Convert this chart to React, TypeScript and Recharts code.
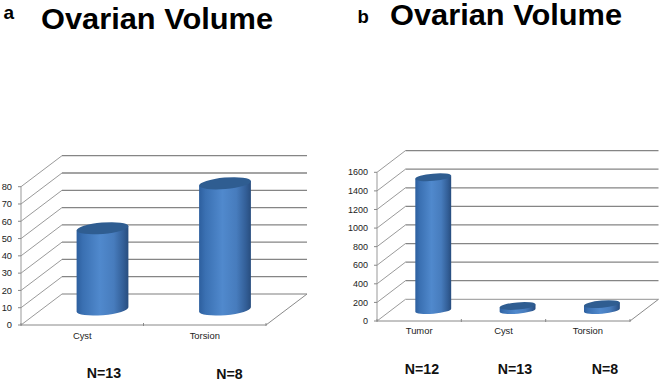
import React from "react";
import { BarChart, Bar, XAxis, YAxis, CartesianGrid } from "recharts";

const categoriesA = ["Cyst", "Torsion"];
const valuesA = [47, 73];
const ticksA = [0, 10, 20, 30, 40, 50, 60, 70, 80];
const categoriesB = ["Tumor", "Cyst", "Torsion"];
const valuesB = [1430, 45, 65];
const ticksB = [0, 200, 400, 600, 800, 1000, 1200, 1400, 1600];
const title = "Ovarian Volume";
const countsA = ["N=13", "N=8"];
const countsB = ["N=12", "N=13", "N=8"];

const toRows = (names: string[], values: number[]) =>
  names.map((name, i) => ({ name, value: values[i] }));

const FONT = "'Liberation Sans', Arial, sans-serif";
const TILT = 5;

function cylinder(id: string, dx: number, dy: number, ry: number) {
  return (p: any) => {
    const rx = p.width / 2;
    const cx = p.x + rx + dx;
    const top = p.y + dy;
    const base = p.y + p.height + dy;
    const a = (TILT * Math.PI) / 180;
    const ox = rx * Math.cos(a);
    const oy = rx * Math.sin(a);
    const side = `M${cx - ox} ${top + oy} L${cx - ox} ${base + oy} A${rx} ${ry} ${-TILT} 0 0 ${cx + ox} ${base - oy} L${cx + ox} ${top - oy} Z`;
    return (
      <g>
        <path d={side} fill={`url(#${id})`} />
        <ellipse cx={cx} cy={top} rx={rx} ry={ry} fill="#2f5d91" transform={`rotate(${-TILT} ${cx} ${top})`} />
      </g>
    );
  };
}

function grid3d(dx: number, dy: number) {
  return (p: any) => {
    const floor = Math.abs(p.y1 - (p.y + p.height)) < 0.5;
    const x = p.x1;
    const y = p.y1;
    const end = p.x2;
    return (
      <g key={`g${y}`} fill="none">
        <line x1={x} y1={y} x2={x + dx} y2={y + dy} stroke="#9a9a9a" />
        <line x1={x + dx} y1={y + dy} x2={end + dx} y2={y + dy} stroke={floor ? "#a8a8a8" : "#858585"} strokeWidth={1.3} />
        {floor && <line x1={end} y1={y} x2={end + dx} y2={y + dy} stroke="#8a8a8a" />}
      </g>
    );
  };
}

function xTick(band: number, count: number, axisGap: number, labelGap: number) {
  return (p: any) => {
    const axisY = p.y - axisGap;
    return (
      <g>
        <line x1={p.x - band / 2} y1={axisY} x2={p.x - band / 2} y2={axisY + 3} stroke="#888" />
        {p.index === count - 1 && <line x1={p.x + band / 2} y1={axisY} x2={p.x + band / 2} y2={axisY + 3} stroke="#888" />}
        <text x={p.x} y={axisY + labelGap} textAnchor="middle" fontFamily={FONT} fontSize={9.4} fill="#222">
          {p.payload.value}
        </text>
      </g>
    );
  };
}

function Gradient({ id }: { id: string }) {
  return (
    <defs>
      <linearGradient id={id} x1="0" y1="0" x2="1" y2="0">
        <stop offset="0" stopColor="#2d5f9e" />
        <stop offset="0.12" stopColor="#3a70b2" />
        <stop offset="0.45" stopColor="#5089cd" />
        <stop offset="0.72" stopColor="#477cbd" />
        <stop offset="0.9" stopColor="#335f98" />
        <stop offset="1" stopColor="#284d7e" />
      </linearGradient>
    </defs>
  );
}

const tickStyle = { fontFamily: FONT, fill: "#222" };

function Panel(props: {
  left: number; id: string; rows: any[]; ticks: number[]; max: number; margin: any;
  yWidth: number; xHeight: number; dx: number; dy: number; ry: number; barSize: number;
  plotWidth: number; labelGap: number; fontSize: number;
}) {
  const { left, id, rows, ticks, max, margin, yWidth, xHeight, dx, dy, ry, barSize, plotWidth, labelGap, fontSize } = props;
  return (
    <div style={{ position: "absolute", left, top: 0 }}>
      <BarChart width={330} height={381} data={rows} margin={margin} style={{ overflow: "visible" }}>
        <Gradient id={id} />
        <CartesianGrid vertical={false} horizontal={grid3d(dx, dy) as any} />
        <XAxis
          dataKey="name"
          height={xHeight}
          interval={0}
          tickLine={false}
          tickMargin={0}
          axisLine={{ stroke: "#888" }}
          tick={xTick(plotWidth / rows.length, rows.length, 8, labelGap) as any}
        />
        <YAxis
          width={yWidth}
          domain={[0, max]}
          ticks={ticks}
          interval={0}
          tickSize={3}
          tickMargin={6}
          axisLine={{ stroke: "#999" }}
          tickLine={{ stroke: "#888" }}
          tick={{ ...tickStyle, fontSize }}
        />
        <Bar dataKey="value" barSize={barSize} isAnimationActive={false} shape={cylinder(id, dx / 2, dy / 2, ry) as any} />
      </BarChart>
    </div>
  );
}

function Caption({ x, y, text }: { x: number; y: number; text: string }) {
  return (
    <text x={x} y={y} textAnchor="middle" fontFamily={FONT} fontWeight="bold" fontSize={14.2} fill="#111">
      {text}
    </text>
  );
}

export default function App() {
  return (
    <div style={{ position: "absolute", left: 0, top: 0, width: 662, height: 381, background: "#fff", overflow: "hidden" }}>
      <Panel left={0} id="cylA" rows={toRows(categoriesA, valuesA)} ticks={ticksA} max={80}
        margin={{ top: 186.7, right: 64, bottom: 0, left: 0 }} yWidth={21} xHeight={56}
        dx={41} dy={-31} ry={5.7} barSize={52} plotWidth={245} labelGap={16} fontSize={9.3} />
      <Panel left={332} id="cylB" rows={toRows(categoriesB, valuesB)} ticks={ticksB} max={1600}
        margin={{ top: 172.3, right: 32, bottom: 0, left: 0 }} yWidth={45} xHeight={60}
        dx={28.5} dy={-21.7} ry={3.6} barSize={36} plotWidth={253} labelGap={15} fontSize={9} />
      <svg width={662} height={381} style={{ position: "absolute", left: 0, top: 0, pointerEvents: "none" }}>
        <text x={41} y={28.5} fontFamily={FONT} fontWeight="bold" fontSize={30.4} textLength={232} lengthAdjust="spacingAndGlyphs" fill="#000">{title}</text>
        <text x={390} y={24.5} fontFamily={FONT} fontWeight="bold" fontSize={30.4} textLength={232} lengthAdjust="spacingAndGlyphs" fill="#000">{title}</text>
        <text x={3.5} y={19} fontFamily={FONT} fontWeight="bold" fontSize={19} fill="#000">a</text>
        <text x={357.5} y={23} fontFamily={FONT} fontWeight="bold" fontSize={18.5} fill="#000">b</text>
        <Caption x={104} y={378} text={countsA[0]} />
        <Caption x={229.5} y={379} text={countsA[1]} />
        <Caption x={422} y={374} text={countsB[0]} />
        <Caption x={515} y={374} text={countsB[1]} />
        <Caption x={605} y={374} text={countsB[2]} />
      </svg>
    </div>
  );
}
